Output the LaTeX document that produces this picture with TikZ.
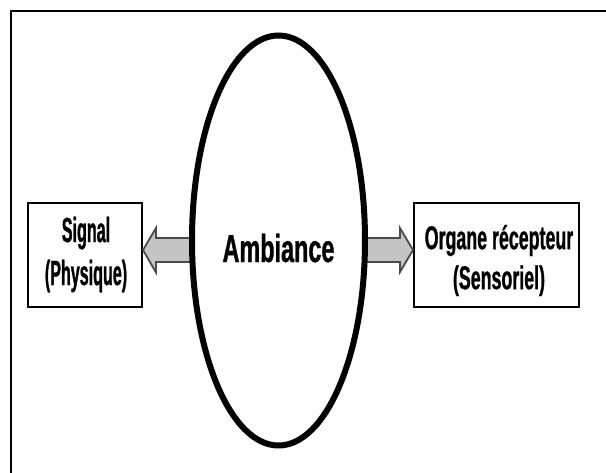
\documentclass[tikz,border=0pt]{standalone}
\usepackage{fontspec}
\newfontfamily\narrowA[FakeStretch=0.46,FakeBold=0.8]{Liberation Sans}
\newfontfamily\narrowB[FakeStretch=0.54,FakeBold=0.8]{Liberation Sans}
\newfontfamily\narrowC[FakeStretch=0.6,FakeBold=0.8]{Liberation Sans}
\usetikzlibrary{shapes.geometric,calc}
\definecolor{arrowfill}{HTML}{C4C4C4}
\definecolor{arrowline}{HTML}{4A4A4A}
\begin{document}
\begin{tikzpicture}[x=1pt,y=-1pt,
  box/.style={draw, line width=2pt, inner sep=0pt},
  fatarrow/.style={draw=arrowline, fill=arrowfill, line width=1.8pt, line join=miter},
  smalltext/.style={align=center, inner sep=0pt}]
\useasboundingbox (0,0) rectangle (606,472);
\clip (0,0) rectangle (606,472);
\draw[line width=2pt] (11,11) rectangle (650,520);
% boxes
\node[box, minimum width=114pt, minimum height=104pt] (sig) at (85,255) {};
\node[box, minimum width=165pt, minimum height=104pt] (org) at (496.5,255) {};
\node[smalltext, font=\narrowA\bfseries\fontsize{35}{43}\selectfont] (sigt) at (86,254.5) {Signal\\(Physique)};
\node[smalltext, font=\narrowB\bfseries\fontsize{33}{40}\selectfont] (orgt) at (499,260.5) {Organe récepteur\\(Sensoriel)};
% ellipse position helpers
\coordinate (ay) at (0,250);
\coordinate (ex) at (192,0);
\coordinate (fx) at (365,0);
% arrows
\draw[fatarrow] ($(ex|-ay)+(0,-12)$) -- ($(sig.east|-ay)+(13,-12)$) -- ($(sig.east|-ay)+(13,-22)$)
  -- (sig.east|-ay) -- ($(sig.east|-ay)+(13,22.5)$) -- ($(sig.east|-ay)+(13,12)$) -- ($(ex|-ay)+(0,12)$) -- cycle;
\draw[fatarrow] ($(fx|-ay)+(0,-12)$) -- ($(org.west|-ay)+(-13,-12)$) -- ($(org.west|-ay)+(-13,-22)$)
  -- (org.west|-ay) -- ($(org.west|-ay)+(-13,22)$) -- ($(org.west|-ay)+(-13,12)$) -- ($(fx|-ay)+(0,12)$) -- cycle;
% ellipse
\node[ellipse, draw, line width=6pt, fill=white, minimum width=173pt, minimum height=410pt, inner sep=0pt] (amb) at (278.5,240.5) {};
\node[anchor=base, inner sep=0pt, font=\narrowC\bfseries\fontsize{39}{44}\selectfont] (ambt) at (278.5,262) {Ambiance};
\end{tikzpicture}
\end{document}
